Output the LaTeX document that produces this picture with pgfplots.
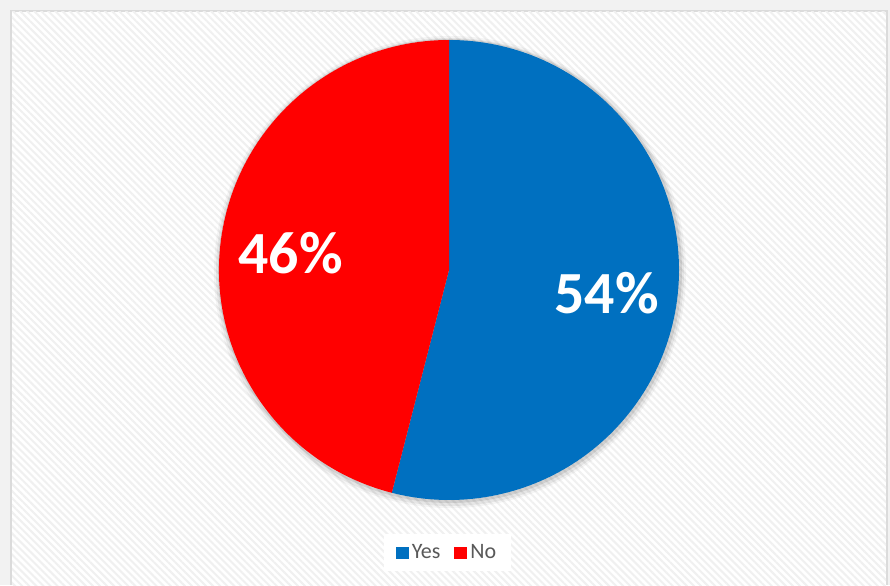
\documentclass[border=0pt]{standalone}
\usepackage{pgfplots}
\pgfplotsset{compat=1.18}
\usepackage{pgfplotstable}
\usepackage{fontspec}
\setmainfont{Carlito}
\usetikzlibrary{patterns.meta}
\definecolor{yesblue}{HTML}{0070C0}
\definecolor{nored}{HTML}{FF0000}
\definecolor{legtext}{HTML}{595959}
\pgfplotstableread{
label value
Yes 54
No 46
}\piedata
\newcommand{\legfont}{\fontsize{22bp}{24bp}\selectfont\color{legtext}}
\begin{document}
\begin{tikzpicture}
\pgfplotstablegetelem{0}{value}\of\piedata
\pgfmathsetmacro{\angyes}{90-3.6*\pgfplotsretval}
\pgfplotstablegetelem{1}{value}\of\piedata
\pgfmathsetmacro{\angno}{\angyes-3.6*\pgfplotsretval}
\begin{axis}[
  scale only axis, width=890bp, height=585bp,
  xmin=0, xmax=890, ymin=0, ymax=585,
  enlargelimits=false, hide axis, clip=false,
  legend style={at={(axis cs:447.5,32.5)}, anchor=center, legend columns=2,
    draw=none, fill=white,
    inner xsep=12bp, inner ysep=9bp,
    nodes={inner xsep=3bp, inner ysep=2bp},
    /tikz/every even column/.append style={column sep=11bp}},
  legend image code/.code={\fill[#1] (0bp,-6bp) rectangle (13bp,6bp);},
]
% background frame
\fill[black!5] (axis cs:0,0) rectangle (axis cs:890,585);
\fill[black!14] (axis cs:10,0) rectangle (axis cs:888,575);
\fill[white] (axis cs:12,0) rectangle (axis cs:886,573);
\fill[pattern={Lines[angle=-45,distance=5bp,line width=2bp]}, pattern color=black!6]
  (axis cs:12,0) rectangle (axis cs:886,573);
% shadow
\fill[black, opacity=0.04] (axis cs:450,313) circle[radius=236bp];
\fill[black, opacity=0.06] (axis cs:450,313) circle[radius=234bp];
\fill[black, opacity=0.09] (axis cs:450,314) circle[radius=232bp];
% slices
\fill[yesblue] (axis cs:449,315) -- ++(90:230bp) arc[start angle=90, end angle=\angyes, radius=230bp] -- cycle;
\fill[nored] (axis cs:449,315) -- ++(\angyes:230bp) arc[start angle=\angyes, end angle=\angno, radius=230bp] -- cycle;
% labels
\node[text=white, font=\fontsize{60}{60}\selectfont\bfseries, anchor=center, inner sep=0pt, text depth=0pt] at (axis cs:606.5,292.5) {54\%};
\node[text=white, font=\fontsize{60}{60}\selectfont\bfseries, anchor=center, inner sep=0pt, text depth=0pt] at (axis cs:290.5,332) {46\%};
\addlegendimage{fill=yesblue, draw=none}
\addlegendentry{\legfont Yes}
\addlegendimage{fill=nored, draw=none}
\addlegendentry{\legfont No}
\end{axis}
\end{tikzpicture}
\end{document}
